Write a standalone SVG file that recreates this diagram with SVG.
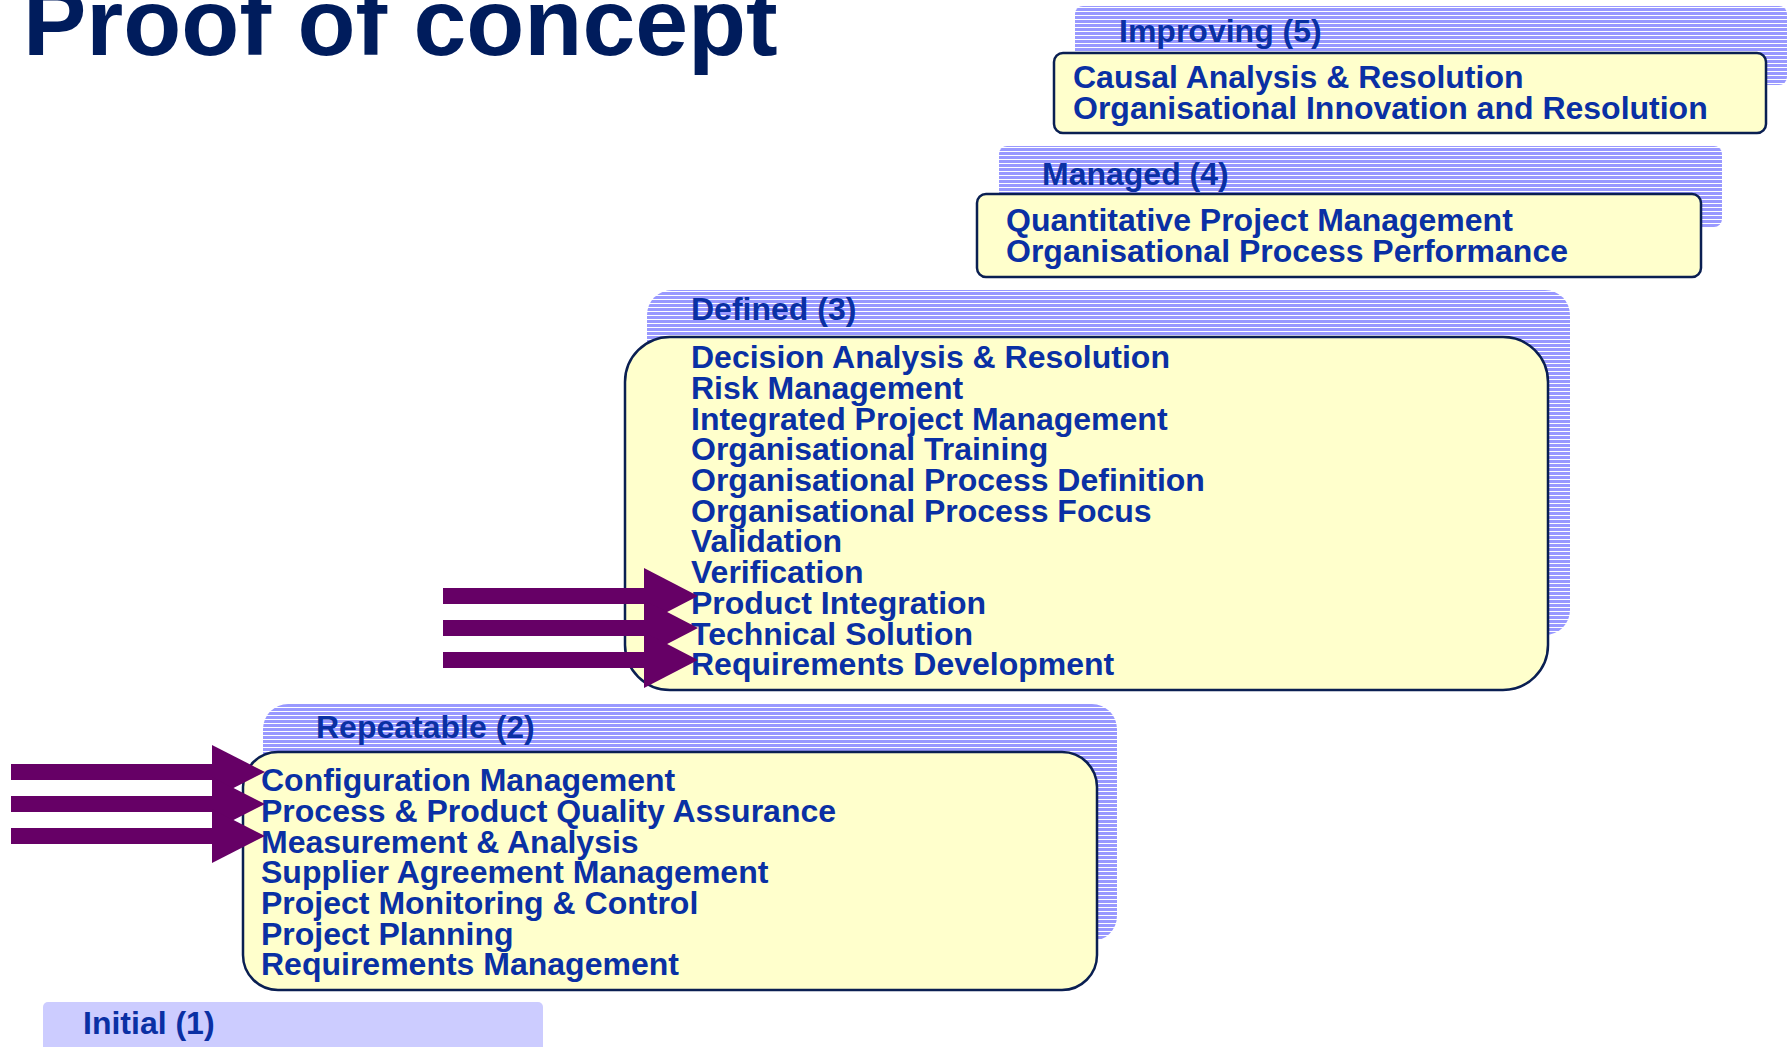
<svg xmlns="http://www.w3.org/2000/svg" width="1788" height="1047" viewBox="0 0 1788 1047">
<defs>
<pattern id="stripes" patternUnits="userSpaceOnUse" width="8" height="4">
<rect x="0" y="0" width="8" height="4" fill="#ffffff"/>
<rect x="0" y="0" width="8" height="3" fill="#9999ff"/>
</pattern>
<style>
.back{fill:url(#stripes);}
.front{fill:#ffffcc;stroke:#0a1f52;stroke-width:2.5;}
.lbl{font-family:"Liberation Sans",Arial,sans-serif;font-weight:bold;font-size:32px;fill:#0a30a4;}
.item{font-family:"Liberation Sans",Arial,sans-serif;font-weight:bold;font-size:32px;fill:#0a30a4;}
.title{font-family:"Liberation Sans",Arial,sans-serif;font-weight:bold;font-size:95px;fill:#001c5c;}
.arr{fill:#660066;}
</style>
</defs>
<rect width="1788" height="1047" fill="#ffffff"/>
<text class="title" x="23" y="55">Proof of concept</text>

<g id="improving">
<rect class="back" x="1075" y="6" width="712" height="79" rx="8"/>
<text class="lbl" x="1119" y="42">Improving (5)</text>
<rect class="front" x="1054" y="53" width="712" height="80" rx="9"/>
<text class="item" x="1073" y="88">Causal Analysis &amp; Resolution</text>
<text class="item" x="1073" y="119">Organisational Innovation and Resolution</text>
</g>

<g id="managed">
<rect class="back" x="999" y="146" width="723" height="81" rx="8"/>
<text class="lbl" x="1042" y="185">Managed (4)</text>
<rect class="front" x="977" y="194" width="724" height="83" rx="9"/>
<text class="item" x="1006" y="231">Quantitative Project Management</text>
<text class="item" x="1006" y="262">Organisational Process Performance</text>
</g>

<g id="defined">
<rect class="back" x="647" y="290" width="923" height="345" rx="25"/>
<text class="lbl" x="691" y="320">Defined (3)</text>
<rect class="front" x="625" y="337" width="923" height="353" rx="45"/>
<text class="item" x="691" y="368">Decision Analysis &amp; Resolution</text>
<text class="item" x="691" y="399">Risk Management</text>
<text class="item" x="691" y="430">Integrated Project Management</text>
<text class="item" x="691" y="460">Organisational Training</text>
<text class="item" x="691" y="491">Organisational Process Definition</text>
<text class="item" x="691" y="522">Organisational Process Focus</text>
<text class="item" x="691" y="552">Validation</text>
<text class="item" x="691" y="583">Verification</text>
<text class="item" x="691" y="614">Product Integration</text>
<text class="item" x="691" y="645">Technical Solution</text>
<text class="item" x="691" y="675">Requirements Development</text>
</g>

<g id="repeatable">
<rect class="back" x="263" y="704" width="854" height="237" rx="25"/>
<text class="lbl" x="316" y="738">Repeatable (2)</text>
<rect class="front" x="243" y="752" width="854" height="238" rx="35"/>
<text class="item" x="261" y="791">Configuration Management</text>
<text class="item" x="261" y="822">Process &amp; Product Quality Assurance</text>
<text class="item" x="261" y="853">Measurement &amp; Analysis</text>
<text class="item" x="261" y="883">Supplier Agreement Management</text>
<text class="item" x="261" y="914">Project Monitoring &amp; Control</text>
<text class="item" x="261" y="945">Project Planning</text>
<text class="item" x="261" y="975">Requirements Management</text>
</g>

<g id="initial">
<rect x="43" y="1002" width="500" height="60" rx="5" fill="#ccccff"/>
<text class="lbl" x="83" y="1034">Initial (1)</text>
</g>

<g id="connectors">
<rect class="arr" x="443" y="588" width="205" height="16"/>
<rect class="arr" x="443" y="620" width="205" height="16"/>
<rect class="arr" x="443" y="652" width="205" height="16"/>
<polygon class="arr" points="644,568 698,596 644,624"/>
<polygon class="arr" points="644,600 698,628 644,656"/>
<polygon class="arr" points="644,632 698,660 644,688"/>
<rect class="arr" x="11" y="764" width="205" height="16"/>
<rect class="arr" x="11" y="796" width="205" height="16"/>
<rect class="arr" x="11" y="828" width="205" height="16"/>
<polygon class="arr" points="212,745 265,772 212,799"/>
<polygon class="arr" points="212,777 265,804 212,831"/>
<polygon class="arr" points="212,809 265,836 212,863"/>
</g>
</svg>
